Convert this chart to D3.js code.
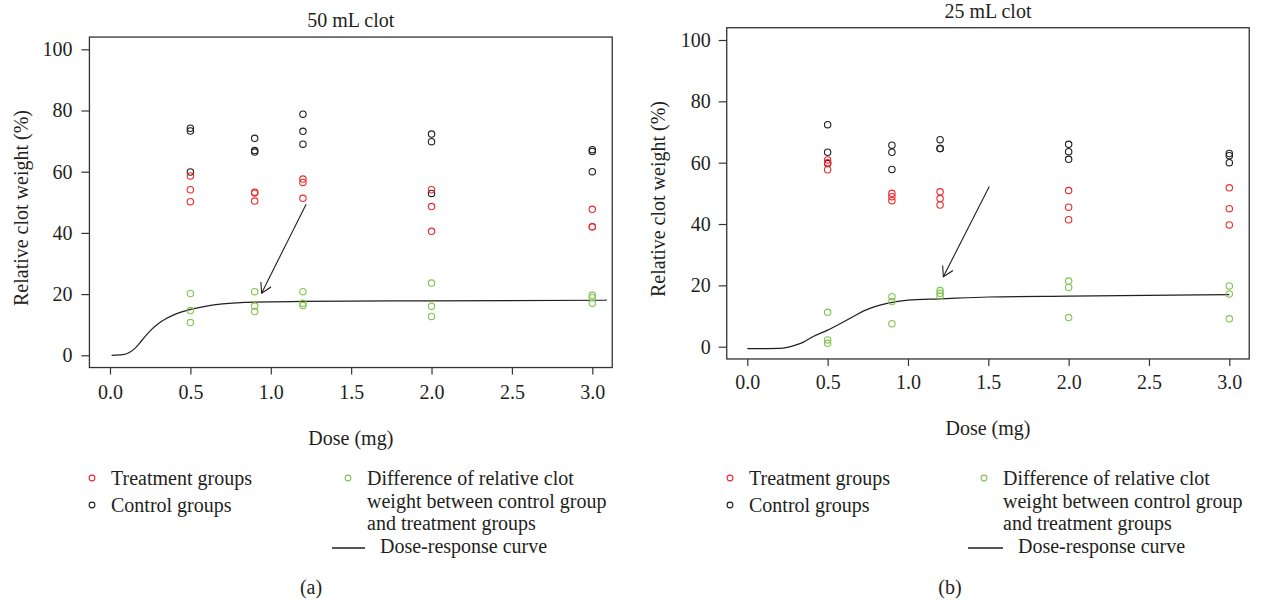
<!DOCTYPE html>
<html>
<head>
<meta charset="utf-8">
<script src="https://cdn.jsdelivr.net/npm/d3@7"></script>
<style>
  body { margin: 0; background: #fff; }
  #chart text { font-family: "Liberation Serif", "Times New Roman", serif; fill: #231f20; }
</style>
</head>
<body>
<div id="chart"></div>
<script>
// Doses used in both experiments (mg)
const doses = [0.5, 0.9, 1.2, 2.0, 3.0];
const xTicks = [0.0, 0.5, 1.0, 1.5, 2.0, 2.5, 3.0];
const yTicks = [0, 20, 40, 60, 80, 100];

// 50 mL clot, one inner array per dose
const controlA = [[74.2, 73.3, 59.9], [70.9, 66.9, 66.4], [78.8, 73.2, 69.0], [72.3, 69.8, 52.9], [67.2, 66.6, 60.0]];
const treatA = [[58.6, 54.1, 50.2], [53.3, 53.0, 50.4], [57.6, 56.5, 51.3], [54.1, 48.6, 40.5], [47.7, 42.0, 42.0]];
const diffA = [[20.2, 14.6, 10.7], [20.8, 16.1, 14.3], [20.8, 17.0, 16.3], [23.6, 16.0, 12.7], [19.6, 18.8, 17.0]];
const curveDoseA = [0.01, 0.08, 0.12, 0.16, 0.2, 0.25, 0.3, 0.35, 0.4, 0.5, 0.6, 0.7, 0.9, 1.2, 2.0, 3.09];
const curveValA = [0, 0.2, 0.9, 2.5, 5.0, 8.0, 10.3, 12.0, 13.3, 15.0, 16.1, 16.8, 17.4, 17.6, 17.8, 18.0];
const arrowA = [[1.22, 49.4], [0.943, 20.3]];

// 25 mL clot
const controlB = [[72.4, 63.4, 59.7], [65.7, 63.4, 57.8], [67.5, 64.6, 64.6], [66.0, 63.6, 61.1], [63.0, 62.3, 60.0]];
const treatB = [[60.9, 60.0, 57.7], [50.0, 48.9, 47.6], [50.5, 48.3, 46.2], [50.9, 45.5, 41.4], [51.8, 45.0, 39.7]];
const diffB = [[11.2, 2.2, 1.1], [16.3, 14.7, 7.5], [18.3, 17.4, 16.5], [21.4, 19.3, 9.5], [19.8, 17.2, 9.1]];
const curveDoseB = [0, 0.2, 0.25, 0.3, 0.35, 0.41, 0.5, 0.62, 0.74, 0.87, 1.0, 1.2, 1.5, 2.0, 3.0];
const curveValB = [-0.65, -0.55, -0.2, 0.5, 1.5, 3.3, 5.4, 8.7, 12.0, 14.1, 15.2, 15.6, 16.2, 16.5, 17.0];
const arrowB = [[1.506, 52.2], [1.22, 22.8]];

const legendLeft = ['Treatment groups', 'Control groups'];
const legendRight = ['Difference of relative clot', 'weight between control group', 'and treatment groups'];
const curveLabel = 'Dose-response curve';

const colors = { treat: '#f0282a', control: '#231f20', diff: '#84c451', ink: '#231f20' };
const fontSize = '20px';

// Layout of each panel (pixels)
const panels = [
    {
        title: '50 mL clot', tag: '(a)', control: controlA, treat: treatA, diff: diffA,
        curveDose: curveDoseA, curveVal: curveValA, arrow: arrowA,
        xRange: [110, 592.3], yRange: [355.3, 49.3],
        titleY: 20, yLabelX: 21, yLabelY: 208, yPad: 9, xPad: 10, xLabelY: 438,
        legX: [92, 348], legLineX: [332, 365], tagX: 311
    },
    {
        title: '25 mL clot', tag: '(b)', control: controlB, treat: treatB, diff: diffB,
        curveDose: curveDoseB, curveVal: curveValB, arrow: arrowB,
        xRange: [747.3, 1229.3], yRange: [346.7, 40],
        titleY: 11, yLabelX: 658, yLabelY: 199, yPad: 8, xPad: 9, xLabelY: 428,
        legX: [730, 984], legLineX: [968, 1003], tagX: 950
    }
];

const svg = d3.select('#chart')
    .append('svg')
    .attr('width', 1266)
    .attr('height', 601);

// Open arrowhead like R's arrows()
svg.append('defs').append('marker')
    .attr('id', 'arrowhead')
    .attr('viewBox', '0 -6 11 12')
    .attr('refX', 10)
    .attr('refY', 0)
    .attr('orient', 'auto')
    .attr('markerUnits', 'userSpaceOnUse')
    .attr('markerWidth', 11)
    .attr('markerHeight', 12)
    .append('path')
    .attr('d', 'M 0,-5.8 L 10,0 L 0,5.8')
    .attr('fill', 'none')
    .attr('stroke', colors.ink)
    .attr('stroke-width', 1.1);

panels.forEach(p => {
    const x = d3.scaleLinear().domain([0, 3]).range(p.xRange);
    const y = d3.scaleLinear().domain([0, 100]).range(p.yRange);
    const g = svg.append('g');

    // plot box, 4% beyond the data range as R does
    const bx0 = x(-0.128), bx1 = x(3.124), by0 = y(104), by1 = y(-4);
    g.append('rect')
        .attr('x', bx0).attr('y', by0)
        .attr('width', bx1 - bx0).attr('height', by1 - by0)
        .attr('fill', 'none')
        .attr('stroke', '#333')
        .attr('stroke-width', 1.3);

    // axes
    const yAxis = g.append('g')
        .attr('transform', `translate(${bx0},0)`)
        .call(d3.axisLeft(y).tickValues(yTicks).tickSize(8).tickPadding(p.yPad).tickFormat(d3.format('d')));
    const xAxis = g.append('g')
        .attr('transform', `translate(0,${by1})`)
        .call(d3.axisBottom(x).tickValues(xTicks).tickSize(7).tickPadding(p.xPad).tickFormat(d3.format('.1f')));
    [yAxis, xAxis].forEach(ax => {
        ax.select('.domain').remove();
        ax.selectAll('line').attr('stroke', '#333').attr('stroke-width', 1.2);
        ax.selectAll('text')
            .style('font-family', '"Liberation Serif", serif')
            .style('font-size', fontSize)
            .attr('fill', colors.ink);
    });

    // titles and axis labels
    g.append('text')
        .attr('x', (bx0 + bx1) / 2).attr('y', p.titleY).attr('dy', '0.35em')
        .attr('text-anchor', 'middle')
        .style('font-size', fontSize)
        .text(p.title);
    g.append('text')
        .attr('transform', `translate(${p.yLabelX},${p.yLabelY}) rotate(-90)`)
        .attr('dy', '0.35em')
        .attr('text-anchor', 'middle')
        .style('font-size', fontSize)
        .text('Relative clot weight (%)');
    g.append('text')
        .attr('x', (bx0 + bx1) / 2).attr('y', p.xLabelY).attr('dy', '0.35em')
        .attr('text-anchor', 'middle')
        .style('font-size', fontSize)
        .text('Dose (mg)');

    // dose-response curve
    const curve = p.curveDose.map((d, i) => [d, p.curveVal[i]]);
    g.append('path')
        .datum(curve)
        .attr('fill', 'none')
        .attr('stroke', colors.ink)
        .attr('stroke-width', 1.2)
        .attr('d', d3.line().x(d => x(d[0])).y(d => y(d[1])).curve(d3.curveMonotoneX));

    // points: flatten the per-dose arrays
    const groups = [
        { key: 'control', values: p.control },
        { key: 'treat', values: p.treat },
        { key: 'diff', values: p.diff }
    ];
    groups.forEach(grp => {
        const pts = [];
        grp.values.forEach((vals, i) => vals.forEach(v => pts.push({ dose: doses[i], v: v })));
        g.append('g')
            .selectAll('circle')
            .data(pts)
            .enter()
            .append('circle')
            .attr('cx', d => x(d.dose))
            .attr('cy', d => y(d.v))
            .attr('r', 3.2)
            .attr('fill', 'none')
            .attr('stroke', colors[grp.key])
            .attr('stroke-width', 1.1);
    });

    // arrow pointing at the curve
    g.append('line')
        .attr('x1', x(p.arrow[0][0])).attr('y1', y(p.arrow[0][1]))
        .attr('x2', x(p.arrow[1][0])).attr('y2', y(p.arrow[1][1]))
        .attr('stroke', colors.ink)
        .attr('stroke-width', 1.1)
        .attr('marker-end', 'url(#arrowhead)');

    // legend
    const leg = g.append('g').style('font-size', fontSize);
    [[legendLeft[0], colors.treat, 478], [legendLeft[1], colors.control, 505]].forEach(([label, c, ly]) => {
        leg.append('circle').attr('cx', p.legX[0]).attr('cy', ly).attr('r', 2.9)
            .attr('fill', 'none').attr('stroke', c).attr('stroke-width', 1.1);
        leg.append('text').attr('x', p.legX[0] + 19).attr('y', ly).attr('dy', '0.33em').text(label);
    });
    leg.append('circle').attr('cx', p.legX[1]).attr('cy', 478).attr('r', 2.9)
        .attr('fill', 'none').attr('stroke', colors.diff).attr('stroke-width', 1.1);
    const multi = leg.append('text').attr('x', p.legX[1] + 19).attr('y', 485);
    legendRight.forEach((line, i) => {
        multi.append('tspan').attr('x', p.legX[1] + 19).attr('dy', i === 0 ? 0 : 22.6).text(line);
    });
    leg.append('line')
        .attr('x1', p.legLineX[0]).attr('x2', p.legLineX[1])
        .attr('y1', 548).attr('y2', 548)
        .attr('stroke', colors.ink).attr('stroke-width', 1.3);
    leg.append('text').attr('x', p.legLineX[1] + 15).attr('y', 553).text(curveLabel);

    // panel tag
    g.append('text')
        .attr('x', p.tagX).attr('y', 587).attr('dy', '0.35em')
        .attr('text-anchor', 'middle')
        .style('font-size', fontSize)
        .text(p.tag);
});
</script>
</body>
</html>
